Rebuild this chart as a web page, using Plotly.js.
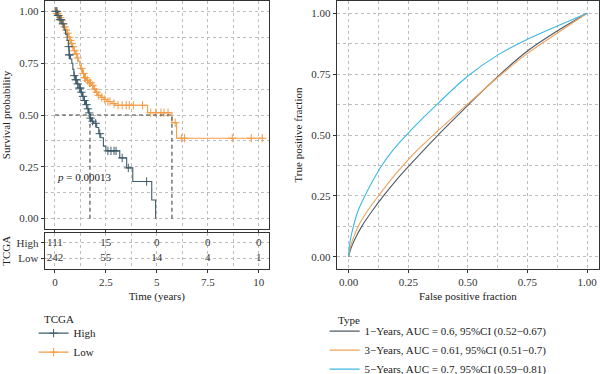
<!DOCTYPE html>
<html><head><meta charset="utf-8">
<script src="https://cdn.plot.ly/plotly-3.0.1.min.js"></script>
<style>html,body{margin:0;padding:0;background:#fff}#chart{width:600px;height:374px}</style>
</head><body><div id="chart"></div>
<script>
// ---------------- Kaplan-Meier data ----------------
const highTime = [0, 0.12, 0.22, 0.34, 0.45, 0.52, 0.6, 0.66, 0.7, 0.76, 0.83, 0.88, 0.93, 1.0, 1.08, 1.18, 1.27, 1.35, 1.42, 1.5, 1.57, 1.65, 1.72, 1.8, 1.9, 2.05, 2.15, 2.25, 2.38, 2.5, 3.18, 3.52, 3.82, 4.75, 4.94];
const highSurv = [1, 0.98, 0.96, 0.94, 0.91, 0.89, 0.86, 0.83, 0.79, 0.77, 0.75, 0.72, 0.69, 0.67, 0.65, 0.63, 0.61, 0.59, 0.57, 0.55, 0.53, 0.51, 0.485, 0.47, 0.46, 0.44, 0.41, 0.39, 0.35, 0.327, 0.293, 0.245, 0.179, 0.09, 0];
const highCensor = [0.05, 0.1, 0.15, 0.25, 0.3, 0.4, 0.68, 0.7, 0.72, 0.95, 1.02, 1.05, 1.12, 1.2, 1.25, 1.3, 1.38, 1.45, 1.55, 1.62, 1.68, 1.75, 1.85, 2.0, 2.2, 2.6, 2.75, 2.9, 3.0, 3.3, 3.6, 4.5];
const lowTime = [0, 0.08, 0.15, 0.22, 0.3, 0.38, 0.45, 0.52, 0.59, 0.65, 0.72, 0.78, 0.85, 0.93, 1.0, 1.08, 1.15, 1.22, 1.27, 1.35, 1.42, 1.55, 1.66, 1.78, 1.9, 2.0, 2.1, 2.25, 2.4, 2.55, 2.8, 2.95, 4.55, 5.74, 5.97];
const lowSurv = [1, 0.99, 0.98, 0.97, 0.955, 0.94, 0.925, 0.91, 0.895, 0.875, 0.86, 0.845, 0.83, 0.81, 0.795, 0.775, 0.76, 0.74, 0.725, 0.70, 0.68, 0.667, 0.655, 0.643, 0.625, 0.61, 0.595, 0.585, 0.575, 0.565, 0.555, 0.547, 0.511, 0.463, 0.388];
const lowCensor = [0.03, 0.06, 0.1, 0.13, 0.18, 0.2, 0.26, 0.33, 0.4, 0.48, 0.55, 0.62, 0.7, 0.75, 0.82, 0.88, 0.96, 1.05, 1.12, 1.3, 1.4, 1.45, 1.5, 1.6, 1.7, 1.75, 1.85, 1.95, 2.05, 2.15, 2.3, 2.45, 2.6, 2.7, 2.9, 3.1, 3.3, 3.5, 3.65, 3.85, 4.3, 4.7, 4.95, 5.2, 5.35, 5.55, 5.9, 6.2, 6.36, 8.7, 9.63, 10.17];
const groupNames = ['High', 'Low'];
const groupTitle = 'TCGA';
const pValueText = '<i>p</i> = 0.00013';

// risk table
const riskTimes = [0, 2.5, 5, 7.5, 10];
const riskHigh = [111, 15, 0, 0, 0];
const riskLow = [242, 55, 14, 4, 1];

// ---------------- ROC data ----------------
const roc1Fpr = [0, 0.008, 0.025, 0.055, 0.1, 0.146, 0.2, 0.258, 0.307, 0.375, 0.5, 0.625, 0.75, 0.888, 1];
const roc1Tpr = [0, 0.03, 0.07, 0.125, 0.19, 0.25, 0.315, 0.378, 0.43, 0.5, 0.622, 0.74, 0.845, 0.935, 1];
const roc3Fpr = [0, 0.005, 0.015, 0.04, 0.08, 0.125, 0.187, 0.237, 0.29, 0.375, 0.5, 0.625, 0.75, 0.888, 1];
const roc3Tpr = [0, 0.03, 0.065, 0.125, 0.19, 0.25, 0.328, 0.385, 0.44, 0.518, 0.628, 0.736, 0.835, 0.927, 1];
const roc5Fpr = [0, 0.004, 0.02, 0.04, 0.068, 0.1, 0.139, 0.185, 0.25, 0.313, 0.375, 0.5, 0.625, 0.75, 0.888, 1];
const roc5Tpr = [0, 0.05, 0.125, 0.19, 0.25, 0.31, 0.375, 0.437, 0.508, 0.571, 0.63, 0.742, 0.828, 0.893, 0.953, 1];
const rocNames = ['1\u2212Years, AUC = 0.6, 95%CI (0.52\u22120.67)', '3\u2212Years, AUC = 0.61, 95%CI (0.51\u22120.7)', '5\u2212Years, AUC = 0.7, 95%CI (0.59\u22120.81)'];
const rocTitle = 'Type';

// ---------------- styling ----------------
const FONT = 'Liberation Serif, Times New Roman, serif';
const cHigh = '#3E5C6B', cLow = '#F29C45';
const cR1 = '#4C5A66', cR3 = '#EFA25C', cR5 = '#3DB7E4';
const gridC = '#BDBDBD';

function survAt(t, times, surv) {
  let s = surv[0];
  for (let i = 0; i < times.length; i++) { if (times[i] <= t) s = surv[i]; }
  return s;
}
function median(times, surv) {
  for (let i = 0; i < times.length; i++) if (surv[i] <= 0.5) return times[i];
  return null;
}
function stepLine(times, surv, censor, color) {
  const x = times.slice(), y = surv.slice();
  const maxC = Math.max(...censor);
  if (maxC > x[x.length - 1]) { x.push(maxC); y.push(y[y.length - 1]); }
  return {x, y, type: 'scatter', mode: 'lines', line: {shape: 'hv', color, width: 1.1}, xaxis: 'x', yaxis: 'y', showlegend: false, hoverinfo: 'skip'};
}
function censorMarks(times, surv, censor, color) {
  return {x: censor, y: censor.map(t => survAt(t, times, surv)), type: 'scatter', mode: 'markers',
    marker: {symbol: 'cross-thin', size: 6, color, line: {color, width: 1}}, xaxis: 'x', yaxis: 'y', showlegend: false, hoverinfo: 'skip'};
}
const rocLine = (x, y, name, color) => ({x, y, type: 'scatter', mode: 'lines', name, legend: 'legend2',
  line: {color, width: 1.1, shape: 'spline', smoothing: 0.9}, xaxis: 'x3', yaxis: 'y3'});

const traces = [
  stepLine(lowTime, lowSurv, lowCensor, cLow),
  censorMarks(lowTime, lowSurv, lowCensor, cLow),
  stepLine(highTime, highSurv, highCensor, cHigh),
  censorMarks(highTime, highSurv, highCensor, cHigh),
  // legend entries
  {x: [null], y: [null], type: 'scatter', mode: 'lines+markers', name: groupNames[0], legend: 'legend',
   line: {color: cHigh, width: 1.1}, marker: {symbol: 'cross-thin', size: 6, color: cHigh, line: {color: cHigh, width: 1}}, xaxis: 'x', yaxis: 'y'},
  {x: [null], y: [null], type: 'scatter', mode: 'lines+markers', name: groupNames[1], legend: 'legend',
   line: {color: cLow, width: 1.1}, marker: {symbol: 'cross-thin', size: 6, color: cLow, line: {color: cLow, width: 1}}, xaxis: 'x', yaxis: 'y'},
  // risk table
  {x: riskTimes, y: riskTimes.map(() => 1), text: riskHigh.map(String), type: 'scatter', mode: 'text',
   textfont: {family: FONT, size: 11, color: '#333'}, xaxis: 'x2', yaxis: 'y2', showlegend: false, hoverinfo: 'skip'},
  {x: riskTimes, y: riskTimes.map(() => 0), text: riskLow.map(String), type: 'scatter', mode: 'text',
   textfont: {family: FONT, size: 11, color: '#333'}, xaxis: 'x2', yaxis: 'y2', showlegend: false, hoverinfo: 'skip'},
  // ROC
  rocLine(roc1Fpr, roc1Tpr, rocNames[0], cR1),
  rocLine(roc3Fpr, roc3Tpr, rocNames[1], cR3),
  rocLine(roc5Fpr, roc5Tpr, rocNames[2], cR5)
];

const tickFont = {family: FONT, size: 11, color: '#333'};
const titleFont = {family: FONT, size: 11, color: '#222'};
const minorGrid = d => ({tick0: 0, dtick: d, showgrid: true, gridcolor: gridC, griddash: 'dot', gridwidth: 1});
function axisBase(extra) {
  return Object.assign({
    showline: true, mirror: true, linecolor: '#333', linewidth: 1,
    ticks: 'outside', ticklen: 3, tickcolor: '#333', tickwidth: 1,
    showgrid: true, gridcolor: gridC, griddash: 'dot', gridwidth: 1,
    zeroline: false, tickfont: tickFont, automargin: false
  }, extra);
}

const mHigh = median(highTime, highSurv), mLow = median(lowTime, lowSurv);
const dashLine = {color: '#444', width: 1.1, dash: '4px,3px'};
const shapes = [
  {type: 'line', xref: 'x', yref: 'y', x0: 0, x1: Math.max(mHigh, mLow), y0: 0.5, y1: 0.5, line: dashLine, layer: 'above'},
  {type: 'line', xref: 'x', yref: 'y', x0: mHigh, x1: mHigh, y0: 0, y1: 0.5, line: dashLine, layer: 'above'},
  {type: 'line', xref: 'x', yref: 'y', x0: mLow, x1: mLow, y0: 0, y1: 0.5, line: dashLine, layer: 'above'}
];

const legendBase = {xanchor: 'left', yanchor: 'top', bgcolor: 'rgba(0,0,0,0)', font: {family: FONT, size: 11, color: '#222'}, tracegroupgap: 0};

const layout = {
  width: 600, height: 374,
  margin: {l: 0, r: 0, t: 0, b: 0, autoexpand: false},
  paper_bgcolor: '#fff', plot_bgcolor: '#fff',
  font: {family: FONT, size: 11, color: '#222'},
  showlegend: true,
  xaxis: axisBase({domain: [0.0745, 0.4483], anchor: 'y', range: [-0.5, 10.5], tickmode: 'linear', tick0: 0, dtick: 2.5, showticklabels: false,
    minor: minorGrid(1.25)}),
  yaxis: axisBase({domain: [0.3877, 0.9973], anchor: 'x', range: [-0.05, 1.05], tickmode: 'linear', tick0: 0, dtick: 0.25, tickformat: '.2f',
    minor: minorGrid(0.125), title: {text: 'Survival probability', font: titleFont, standoff: 6}}),
  xaxis2: axisBase({domain: [0.0745, 0.4483], anchor: 'y2', range: [-0.5, 10.5], tickmode: 'array', tickvals: riskTimes, ticktext: riskTimes.map(String),
    minor: minorGrid(1.25), title: {text: 'Time (years)', font: titleFont, standoff: 5}}),
  yaxis2: axisBase({domain: [0.2807, 0.3778], anchor: 'x2', range: [-0.68, 1.66], tickmode: 'array', tickvals: [1, 0], ticktext: groupNames,
    title: {text: groupTitle, font: titleFont, standoff: 6}}),
  xaxis3: axisBase({domain: [0.5612, 0.9983], anchor: 'y3', range: [-0.05, 1.05], tickmode: 'linear', tick0: 0, dtick: 0.25, tickformat: '.2f',
    minor: minorGrid(0.125), title: {text: 'False positive fraction', font: titleFont, standoff: 5}}),
  yaxis3: axisBase({domain: [0.2807, 0.9973], anchor: 'x3', range: [-0.05, 1.05], tickmode: 'linear', tick0: 0, dtick: 0.25, tickformat: '.2f',
    minor: minorGrid(0.125), title: {text: 'True positive fraction', font: titleFont, standoff: 6}}),
  legend: Object.assign({x: 0.056, y: 0.148}, legendBase),
  legend2: Object.assign({x: 0.541, y: 0.1535}, legendBase),
  annotations: [
    {xref: 'x', yref: 'y', x: 0, y: 0.2, xanchor: 'left', yanchor: 'middle', text: pValueText, showarrow: false, font: {family: FONT, size: 11, color: '#222'}},
    {xref: 'paper', yref: 'paper', x: 0.0700, y: (374 - 319) / 374, xanchor: 'left', yanchor: 'middle', text: groupTitle, showarrow: false, font: titleFont},
    {xref: 'paper', yref: 'paper', x: 0.5600, y: (374 - 320) / 374, xanchor: 'left', yanchor: 'middle', text: rocTitle, showarrow: false, font: titleFont}
  ],
  shapes
};

Plotly.newPlot('chart', traces, layout, {staticPlot: true, displayModeBar: false});
</script>
</body></html>
